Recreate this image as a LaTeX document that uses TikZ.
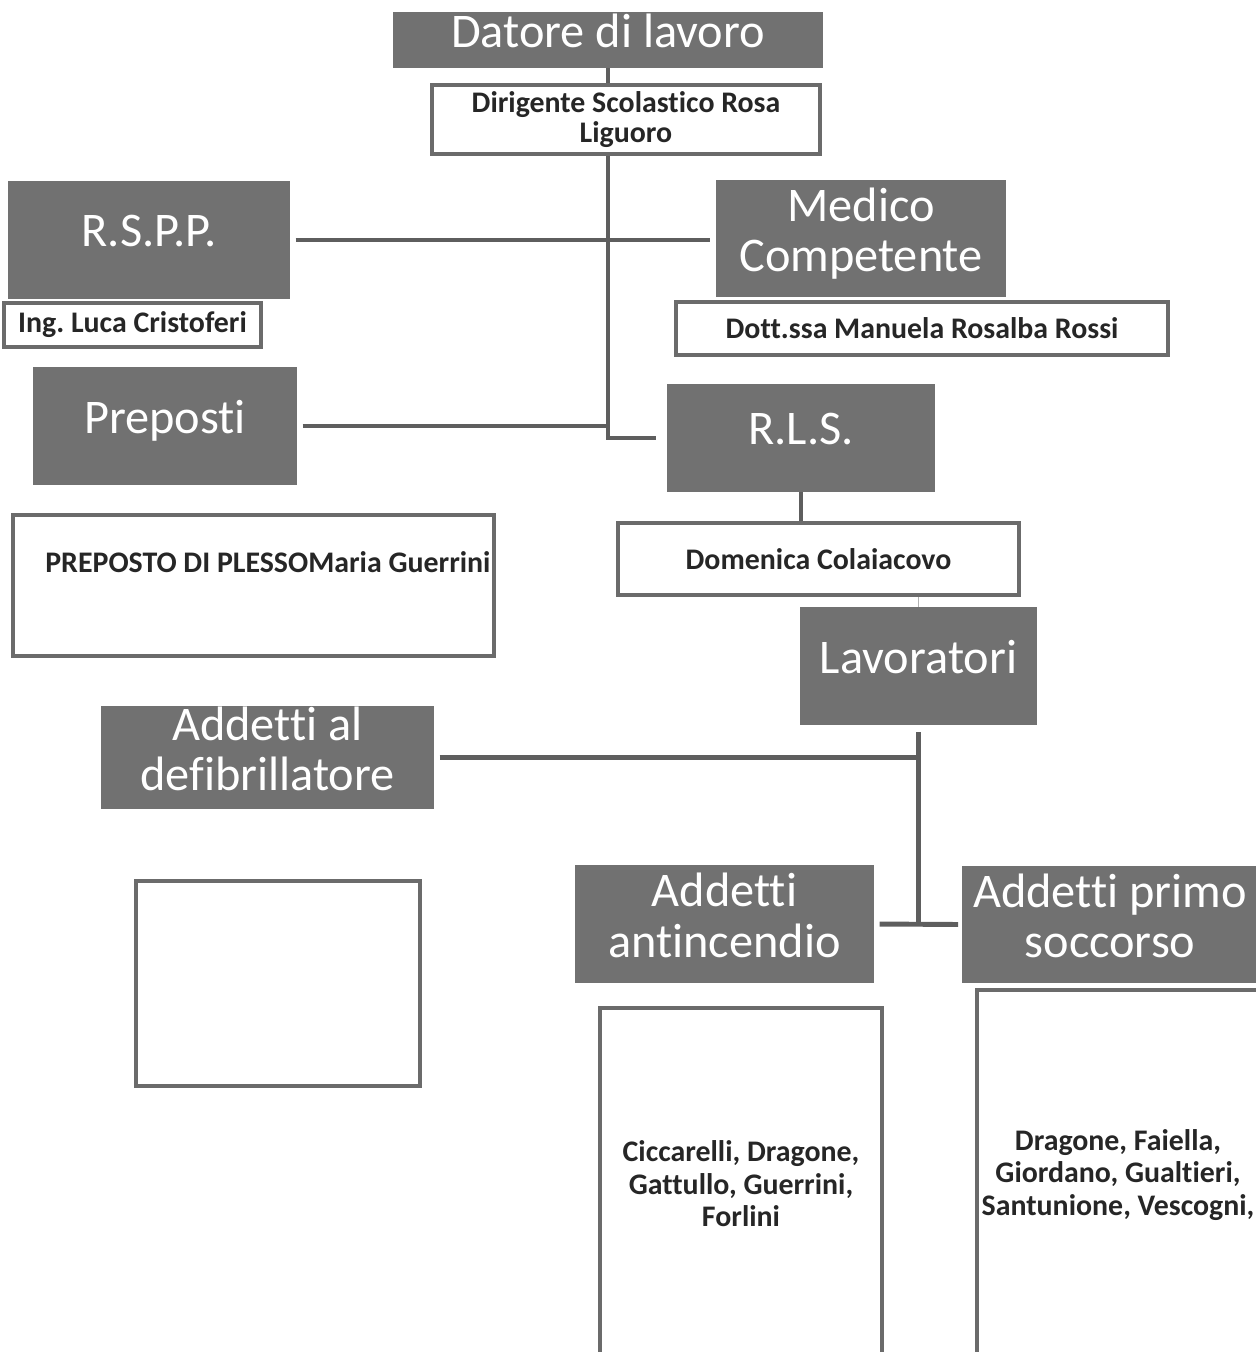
\documentclass[tikz,border=0pt]{standalone}
\usepackage{fontspec}
\setmainfont{Carlito}[Ligatures={NoCommon}]
\frenchspacing
\definecolor{boxgrey}{HTML}{717171}
\definecolor{rimgrey}{HTML}{6B6B6B}
\definecolor{linegrey}{HTML}{5E5E5E}
\tikzset{
	head/.style={fill=boxgrey,text=white,font=\fontsize{27.5}{28.5}\selectfont,align=center,inner sep=0pt,text depth=10pt},
	namebox/.style={draw=rimgrey,line width=2.2pt,fill=white,text=black!85,font=\bfseries\fontsize{17}{17.5}\selectfont,align=center,inner sep=0pt},
	link/.style={draw=linegrey,line width=2.8pt}
}

\begin{document}
\begin{tikzpicture}[x=0.02cm,y=-0.02cm]
\useasboundingbox (0,0) rectangle (1256,1352);
\clip (0,0) rectangle (1256,1352);
%top
\node[head,minimum width=8.6cm,minimum height=1.12cm] (dat) at (608,40) {Datore di lavoro};
\node[namebox,minimum width=7.76cm,minimum height=1.38cm] (dir) at (626,119.5) {Dirigente Scolastico Rosa\\Liguoro};

%rspp and medico
\node[head,minimum width=5.64cm,minimum height=2.36cm] (rspp) at (149,240) {R.S.P.P.};
\node[namebox,minimum width=5.14cm,minimum height=0.88cm] (ing) at (132.5,325) {Ing. Luca Cristoferi};
\node[head,minimum width=5.8cm,minimum height=2.34cm] (med) at (861,238.5) {Medico\\Competente};
\node[namebox,minimum width=9.84cm,minimum height=1.06cm] (dott) at (922,328.5) {Dott.ssa Manuela Rosalba Rossi};

%preposti and rls
\node[head,minimum width=5.28cm,minimum height=2.36cm] (prep) at (165,426) {Preposti};
\node[namebox,minimum width=9.62cm,minimum height=2.82cm] (prepbox) at (253.5,585.5) {};
\node[font=\bfseries\fontsize{17}{17.5}\selectfont,text=black!85,anchor=west,inner sep=0pt] (prepname) at (45,562) {PREPOSTO DI PLESSOMaria Guerrini};
\node[head,minimum width=5.36cm,minimum height=2.16cm] (rls) at (801,438) {R.L.S.};
\node[namebox,minimum width=8.02cm,minimum height=1.44cm] (dom) at (818.5,559) {Domenica Colaiacovo};

%lavoratori
\node[head,minimum width=4.74cm,minimum height=2.36cm] (lav) at (918.5,666) {Lavoratori};
\node[head,minimum width=6.66cm,minimum height=2.06cm] (defib) at (267.5,757.5) {Addetti al\\defibrillatore};
\node[namebox,minimum width=5.68cm,minimum height=4.1cm] (defibbox) at (278,983.5) {};
\node[head,minimum width=5.98cm,minimum height=2.36cm] (anti) at (724.5,924) {Addetti\\antincendio};
\node[head,minimum width=5.92cm,minimum height=2.34cm] (primo) at (1110,924.5) {Addetti primo\\soccorso};
\node[namebox,minimum width=5.64cm,minimum height=7.04cm,font=\bfseries\fontsize{17}{18.5}\selectfont] (antibox) at (741,1184) {Ciccarelli, Dragone,\\Gattullo, Guerrini,\\Forlini};
\node[namebox,minimum width=5.64cm,minimum height=7.4cm,font=\bfseries\fontsize{17}{18.5}\selectfont] (primobox) at (1118,1175) {Dragone, Faiella,\\Giordano, Gualtieri,\\Santunione, Vescogni,};

%links
\coordinate (spine) at (dat.south |- rls.west);
\draw[link] (dat.south) -- (dat.south |- dir.north);
\draw[link,shorten >=6pt] (dat.south |- dir.south) |- (rls.west);
\draw[link,shorten <=3pt,shorten >=3pt] (rspp.east) -- (med.west |- rspp.east);
\draw[link,shorten <=3pt] (prep.east) -- (prep.east -| spine);
\draw[link] (rls.south) -- (rls.south |- dom.north);
\draw[gray!60,line width=1pt] (lav.north) -- (lav.north |- dom.south);
\coordinate (fork) at (lav.south |- anti.east);
\draw[link,shorten <=4pt] (lav.south) -- (fork);
\draw[link,shorten <=3pt] (defib.east) -- (defib.east -| lav.south);
\draw[link,shorten <=3pt,shorten >=2pt] (anti.east) -- (primo.west);
\end{tikzpicture}
\end{document}
